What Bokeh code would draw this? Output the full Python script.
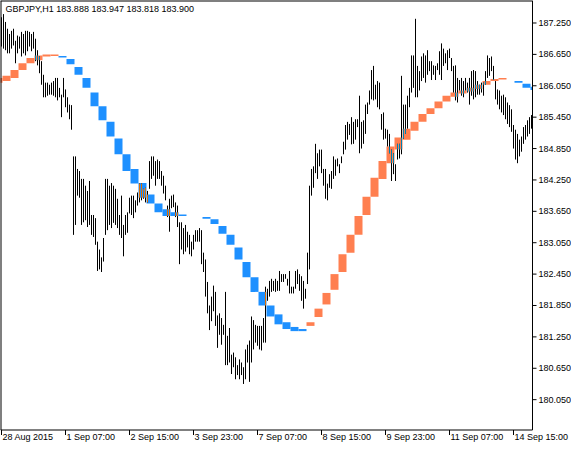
from bokeh.plotting import figure
from bokeh.models import Range1d, Label
from bokeh.core.properties import value
from bokeh.embed import file_html
from bokeh.resources import INLINE

# GBPJPY H1 bars, first bar is 28 Aug 2015 23:00
bar_high = [
    187.36, 187.42, 187.27, 187.14, 187.04, 187.10, 187.14, 186.91, 187.01, 186.99,
    187.08, 187.04, 187.10, 187.10, 187.08, 187.04, 187.08, 186.95, 186.73, 186.61,
    186.52, 186.26, 186.11, 186.11, 186.07, 186.11, 186.14, 186.20, 186.20, 186.01,
    185.88, 186.20, 185.98, 185.83, 185.69, 185.68, 184.70, 184.70, 184.46, 184.42,
    184.27, 184.27, 184.14, 184.04, 184.23, 183.58, 183.58, 183.52, 183.07, 182.92,
    182.77, 183.14, 184.27, 184.27, 184.14, 184.19, 184.14, 184.08, 183.89, 183.58,
    183.95, 183.39, 183.58, 183.63, 183.91, 183.95, 183.95, 183.86, 184.01, 184.18,
    184.18, 184.08, 184.10, 184.04, 184.61, 184.70, 184.70, 184.61, 184.64, 184.61,
    184.42, 184.33, 184.14, 183.76, 183.89, 183.95, 183.97, 183.82, 183.76, 183.44,
    183.44, 183.33, 183.39, 183.26, 183.20, 183.07, 183.20, 183.29, 183.29, 183.33,
    183.29, 182.86, 182.73, 182.30, 181.85, 182.02, 182.23, 182.11, 181.66, 181.70,
    181.61, 181.48, 182.11, 181.27, 181.42, 180.91, 180.95, 180.86, 180.71, 180.82,
    180.76, 180.67, 181.01, 181.10, 181.18, 181.64, 181.57, 181.48, 181.46, 181.46,
    181.46, 181.61, 182.21, 182.17, 182.32, 182.36, 182.32, 182.36, 182.32, 182.51,
    182.45, 182.45, 182.45, 182.36, 182.51, 182.21, 182.21, 182.51, 182.54, 182.45,
    182.41, 182.32, 182.17, 182.86, 184.14, 184.46, 184.51, 184.94, 184.76, 184.83,
    184.83, 184.46, 184.46, 184.18, 184.36, 184.42, 184.70, 184.64, 184.66, 184.55,
    184.70, 184.98, 185.30, 185.36, 185.32, 185.45, 185.36, 185.41, 185.41, 185.86,
    185.36, 185.39, 185.69, 185.73, 185.96, 186.35, 186.43, 186.07, 186.14, 186.11,
    185.51, 185.54, 185.23, 185.21, 185.13, 184.83, 184.76, 184.55, 184.94, 184.94,
    186.24, 185.69, 185.69, 185.86, 186.01, 186.63, 186.63, 187.33, 186.43, 186.33,
    186.61, 186.67, 186.63, 186.73, 186.52, 186.52, 186.44, 186.43, 186.48, 186.71,
    186.86, 186.76, 186.67, 186.73, 186.76, 186.58, 186.43, 186.44, 186.20, 186.16,
    186.20, 186.14, 186.20, 186.11, 186.20, 186.33, 186.35, 186.33, 186.14, 186.07,
    186.11, 186.11, 186.33, 186.63, 186.58, 186.61, 186.43, 186.14, 185.98, 185.96,
    185.86, 185.88, 185.83, 185.73, 185.68, 185.60, 185.30, 185.21, 185.13, 185.02,
    185.08, 185.26, 185.30, 185.39, 185.45, 185.49, 185.60,
]
bar_low = [
    186.80, 186.76, 186.73, 186.67, 186.67, 186.76, 186.82, 186.48, 186.67, 186.76,
    186.61, 186.67, 186.63, 186.71, 186.80, 186.71, 186.76, 186.52, 186.44, 186.29,
    186.07, 185.83, 185.83, 185.86, 185.88, 185.88, 185.86, 185.83, 185.77, 185.83,
    185.45, 185.83, 185.64, 185.54, 185.41, 185.21, 183.20, 183.39, 183.95, 183.91,
    183.39, 183.44, 183.48, 183.35, 183.39, 183.20, 183.16, 183.01, 182.51, 182.54,
    182.49, 182.69, 183.20, 183.29, 183.39, 183.33, 183.43, 183.39, 183.33, 183.20,
    183.14, 182.79, 183.20, 183.24, 183.61, 183.58, 183.52, 183.63, 183.76, 183.82,
    183.86, 183.89, 183.82, 183.82, 184.08, 184.27, 184.33, 184.14, 184.27, 184.27,
    184.14, 183.99, 183.86, 183.54, 183.26, 183.71, 183.73, 183.54, 183.35, 182.64,
    182.92, 182.83, 182.88, 182.96, 182.83, 182.79, 182.92, 183.07, 183.07, 183.07,
    182.64, 182.49, 182.02, 181.70, 181.38, 181.55, 181.74, 181.46, 181.04, 181.29,
    181.10, 181.29, 180.71, 180.71, 180.76, 180.54, 180.67, 180.44, 180.52, 180.44,
    180.52, 180.35, 180.44, 180.76, 180.39, 180.76, 181.01, 181.14, 181.08, 181.01,
    180.99, 181.14, 181.14, 181.94, 182.02, 182.11, 182.13, 182.11, 182.13, 182.13,
    182.30, 182.30, 182.36, 182.23, 182.08, 182.08, 182.08, 182.17, 182.26, 182.13,
    181.94, 181.79, 181.98, 182.26, 182.54, 183.95, 184.10, 184.38, 184.27, 184.51,
    184.38, 184.14, 183.89, 183.86, 184.10, 184.08, 184.27, 184.33, 184.51, 184.38,
    184.57, 184.74, 184.83, 185.02, 185.11, 184.93, 184.94, 185.02, 185.26, 184.76,
    184.85, 184.94, 185.13, 185.51, 185.69, 185.79, 185.77, 185.79, 185.64, 185.60,
    185.21, 185.02, 185.04, 184.89, 184.76, 184.23, 184.36, 184.23, 184.64, 184.66,
    184.74, 185.04, 185.13, 185.23, 185.64, 185.92, 186.01, 185.83, 185.83, 185.96,
    186.14, 186.20, 186.11, 186.26, 186.33, 186.16, 186.26, 186.16, 186.35, 186.26,
    186.16, 186.43, 186.48, 186.35, 186.58, 186.33, 185.92, 185.77, 185.73, 185.96,
    185.86, 185.83, 185.96, 185.92, 185.69, 185.86, 185.79, 185.83, 185.88, 185.88,
    185.92, 185.86, 186.07, 186.20, 186.24, 186.33, 186.16, 185.79, 185.69, 185.60,
    185.54, 185.49, 185.41, 185.32, 185.26, 185.17, 184.85, 184.64, 184.57, 184.70,
    184.79, 184.94, 185.02, 185.08, 185.13, 185.23, 185.39,
]

# indicator, one value pair per H4 block (4 H1 bars): histogram from previous to current value
ma_prev = [
    186.11, 186.14, 186.20, 186.35, 186.48, 186.54, 186.61, 186.62, 186.62, 186.56,
    186.41, 186.20, 185.92, 185.66, 185.36, 185.04, 184.74, 184.46, 184.19, 183.97,
    183.80, 183.69, 183.63, 183.59, 183.56, 183.56, 183.54, 183.50, 183.37, 183.20,
    182.96, 182.68, 182.39, 182.11, 181.85, 181.68, 181.53, 181.44, 181.40, 181.46,
    181.63, 181.87, 182.15, 182.49, 182.86, 183.20, 183.58, 183.93, 184.27, 184.57,
    184.83, 185.02, 185.19, 185.36, 185.51, 185.62, 185.75, 185.84, 185.90, 185.94,
    185.99, 186.07, 186.14, 186.17, 186.20, 186.14, 186.09, 186.03,
]
ma_curr = [
    186.20, 186.24, 186.35, 186.48, 186.58, 186.63, 186.65, 186.65, 186.59, 186.46,
    186.26, 186.01, 185.66, 185.39, 185.08, 184.74, 184.42, 184.18, 183.91, 183.80,
    183.63, 183.56, 183.56, 183.56, 183.56, 183.56, 183.51, 183.41, 183.22, 183.01,
    182.73, 182.39, 182.11, 181.85, 181.64, 181.49, 181.40, 181.36, 181.36, 181.53,
    181.79, 182.09, 182.45, 182.83, 183.20, 183.56, 183.93, 184.29, 184.61, 184.89,
    185.06, 185.23, 185.36, 185.51, 185.62, 185.75, 185.86, 185.92, 185.96, 186.01,
    186.07, 186.14, 186.18, 186.20, 186.20, 186.11, 186.01, 185.97,
]

price_ticks = [180.05, 180.65, 181.25, 181.85, 182.45, 183.05, 183.65,
               184.25, 184.85, 185.45, 186.05, 186.65, 187.25]
label_bars = [0, 32, 64, 96, 128, 160, 192, 224, 256]
time_labels = ["28 Aug 2015", "1 Sep 07:00", "2 Sep 15:00", "3 Sep 23:00", "7 Sep 07:00",
               "8 Sep 15:00", "9 Sep 23:00", "11 Sep 07:00", "14 Sep 15:00"]
header = "GBPJPY,H1  183.888 183.947 183.818 183.900"

FONT = "Liberation Sans"
UP = "#FF7F50"
DOWN = "#1E90FF"
# bars are xor-ed over the indicator in the terminal
INVERTED = {UP: "#0080AF", DOWN: "#E16F00"}

# chart window (bars -0.5 .. 265.5, 2 px per bar), price scale and time scale drawn around it
W, H = 571, 444
STRIP = 14.5
x0, x1 = -0.5, 265.5
y_top, y_bottom = 187.68, 179.47
per_px = (y_top - y_bottom) / (H - STRIP)
y_start = y_bottom - STRIP * per_px
x_end = x0 + W / 2.0

p = figure(frame_width=W, frame_height=H, output_backend="svg", toolbar_location=None,
           x_range=Range1d(x0, x_end), y_range=Range1d(y_start, y_top),
           x_axis_location=None, y_axis_location=None,
           min_border=0, background_fill_color="white", border_fill_color="white")
p.grid.visible = False
p.outline_line_color = None

# indicator blocks, block 0 ends at bar 0
left, right, top, bottom, colors = [], [], [], [], []
for j in range(len(ma_prev)):
    a, b = ma_prev[j], ma_curr[j]
    left.append(4 * j - 3.5)
    right.append(min(4 * j + 0.5, x1))
    top.append(max(a, b))
    bottom.append(min(a, b))
    colors.append(UP if b > a else DOWN)
p.quad(left=left, right=right, top=top, bottom=bottom, fill_color=colors, line_color=None)

idx = [i for i in range(len(bar_high)) if i < x1]
p.segment(x0=idx, y0=[bar_low[i] for i in idx], x1=idx, y1=[bar_high[i] for i in idx],
          line_color="black", line_width=1)

# parts of bars lying on a block
ox, olo, ohi, ocol = [], [], [], []
for i in idx:
    j = (i + 3) // 4
    lo = max(bar_low[i], bottom[j])
    hi = min(bar_high[i], top[j])
    if hi > lo:
        ox.append(i)
        olo.append(lo)
        ohi.append(hi)
        ocol.append(INVERTED[colors[j]])
p.segment(x0=ox, y0=olo, x1=ox, y1=ohi, line_color=ocol, line_width=1)

# chart window border
p.line(x=[x0, x0], y=[y_bottom, y_top], line_color="black", line_width=2)
p.line(x=[x0, x1], y=[y_top, y_top], line_color="black", line_width=2)
p.line(x=[x1, x1, x0], y=[y_top, y_bottom, y_bottom], line_color="black", line_width=1)

# price scale
n = len(price_ticks)
p.segment(x0=[x1] * n, y0=price_ticks, x1=[x1 + 2] * n, y1=price_ticks,
          line_color="black", line_width=1)
p.text(x=[x1] * n, y=price_ticks, text=["%.3f" % t for t in price_ticks],
       x_offset=6, text_align="left", text_baseline="middle",
       text_font=value(FONT), text_font_size=value("9px"), text_color="black")

# time scale
m = len(label_bars)
p.segment(x0=label_bars, y0=[y_bottom] * m, x1=label_bars,
          y1=[y_bottom - 5 * per_px] * m, line_color="black", line_width=1)
for b, txt in zip(label_bars, time_labels):
    p.add_layout(Label(x=b, y=y_bottom, text=txt, x_offset=1, y_offset=-2,
                       text_align="left", text_baseline="top", text_font=FONT,
                       text_font_size="9px", text_color="black"))

p.add_layout(Label(x=x0, y=y_top, text=header, x_offset=5, y_offset=-3,
                   text_align="left", text_baseline="top", text_font=FONT,
                   text_font_size="9px", text_color="black"))

open("out.html", "w").write(file_html(p, INLINE))
